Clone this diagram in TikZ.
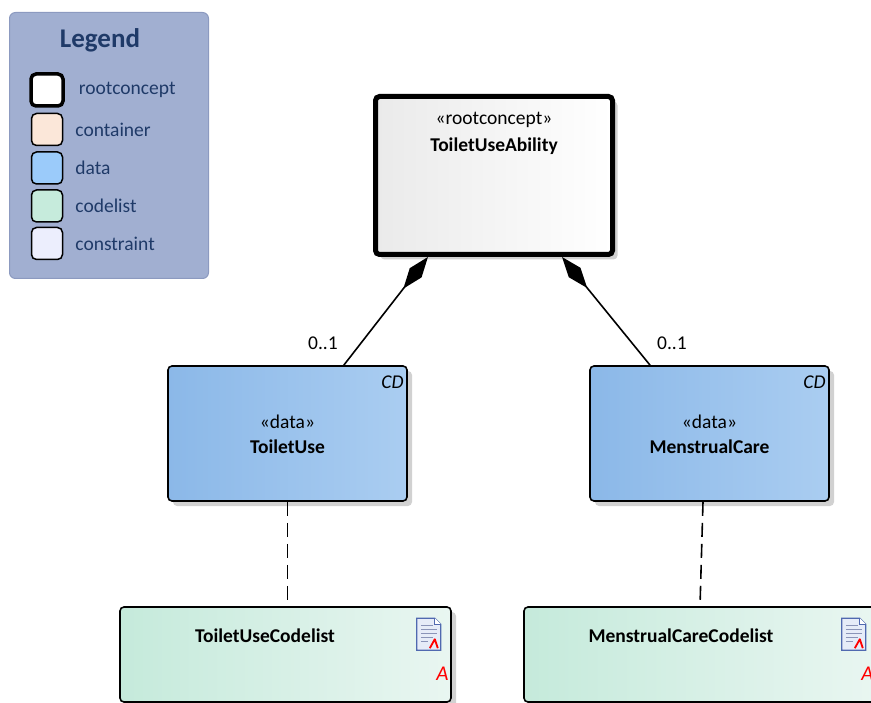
\documentclass[tikz,border=0pt]{standalone}
\usepackage{fontspec}
\setmainfont{Carlito}
\usepackage{xcolor}
\usepackage{tikz}
\usetikzlibrary{calc,shadows,arrows.meta,positioning}

\definecolor{legendfill}{HTML}{A1AFD1}
\definecolor{legendline}{HTML}{8C9AC0}
\definecolor{legendtext}{HTML}{1F3A68}
\definecolor{containercol}{HTML}{FBE7D9}
\definecolor{datacol}{HTML}{9BCBFA}
\definecolor{codelistcol}{HTML}{C6EBDC}
\definecolor{constraintcol}{HTML}{ECEEFD}
\definecolor{rootleft}{HTML}{EAEAEA}
\definecolor{dataleft}{HTML}{8BB8E8}
\definecolor{dataright}{HTML}{AACDF1}
\definecolor{codeleft}{HTML}{C5EADB}
\definecolor{coderight}{HTML}{E9F6F1}
\definecolor{iconblue}{HTML}{5069B0}
\definecolor{iconfill}{HTML}{E6ECF8}
\definecolor{iconlines}{HTML}{8A94B8}

\newcommand{\dgmfont}{\fontsize{19.5}{23}\selectfont}

\begin{document}
\begin{tikzpicture}[x=1pt,y=-1pt,
  elem/.style={rectangle, rounded corners=4pt, draw=black, line width=1.6pt, inner sep=0pt,
    drop shadow={shadow xshift=5pt, shadow yshift=-5pt, fill=black, opacity=0.18}},
  rootbox/.style={elem, line width=5pt, left color=rootleft, right color=white},
  databox/.style={elem, left color=dataleft, right color=dataright},
  codebox/.style={elem, left color=codeleft, right color=coderight},
  stereo/.style={font=\dgmfont, inner sep=0pt},
  elemname/.style={font=\dgmfont\bfseries, inner sep=0pt},
  mult/.style={font=\dgmfont, inner sep=0pt},
  composition/.style={line width=1.6pt, line join=miter, arrows={Diamond[length=40pt,width=15pt]-}},
  dependency/.style={line width=1.6pt, dash pattern=on 14pt off 7pt},
  swatch/.style={rectangle, rounded corners=5pt, draw=black, line width=1.5pt,
    minimum width=31, minimum height=32, inner sep=0pt},
  legendlabel/.style={font=\dgmfont, text=legendtext, anchor=west, inner sep=0pt}
]
  \useasboundingbox (0,0) rectangle (871,703);
  \clip (0,0) rectangle (871,703);

  % Legend
  \node[rectangle, rounded corners=6pt, draw=legendline, line width=1pt, fill=legendfill,
    minimum width=199, minimum height=266] (legend) at (109,145.5) {};
  \node[font=\fontsize{27}{31}\selectfont\bfseries, text=legendtext, inner sep=0pt] (legendtitle) at (100,40) {Legend};
  \node[swatch, line width=3.5pt, fill=white, minimum width=32, minimum height=32] (swroot) at (47,90) {};
  \node[swatch, fill=containercol] (swcontainer) at (47,129.5) {};
  \node[swatch, fill=datacol] (swdata) at (47,168) {};
  \node[swatch, fill=codelistcol] (swcodelist) at (47,206) {};
  \node[swatch, fill=constraintcol] (swconstraint) at (47,243.5) {};
  \node[legendlabel, right=14pt of swroot.east] {rootconcept};
  \node[legendlabel, right=12pt of swcontainer.east] {container};
  \node[legendlabel, right=12pt of swdata.east] {data};
  \node[legendlabel, right=12pt of swcodelist.east] {codelist};
  \node[legendlabel, right=12pt of swconstraint.east] {constraint};

  % Root concept
  \node[rootbox, minimum width=237, minimum height=158] (root) at (494,175.5) {};
  \node[stereo] (rootst) at (494,120) {«rootconcept»};
  \node[elemname] (rootname) at (494,146) {ToiletUseAbility};

  % Data elements
  \node[databox, minimum width=239, minimum height=135] (toilet) at (287.5,433.5) {};
  \node[stereo] (toiletst) at (287.5,422) {«data»};
  \node[elemname] (toiletname) at (287.5,447) {ToiletUse};
  \node[font=\dgmfont\itshape, anchor=east, inner sep=0pt] (toiletcd) at ($(toilet.north east)+(-4,17)$) {CD};

  \node[databox, minimum width=239, minimum height=135] (menstrual) at (709.5,433.5) {};
  \node[stereo] (menstrualst) at (709.5,422) {«data»};
  \node[elemname] (menstrualname) at (709.5,447) {MenstrualCare};
  \node[font=\dgmfont\itshape, anchor=east, inner sep=0pt] (menstrualcd) at ($(menstrual.north east)+(-4,17)$) {CD};

  % Codelists
  \node[codebox, minimum width=331, minimum height=95] (toiletcl) at (285.5,654.5) {};
  \node[elemname] (toiletclname) at (265,636) {ToiletUseCodelist};
  \node[codebox, minimum width=352, minimum height=95] (menstrualcl) at (700,654.5) {};
  \node[elemname] (menstrualclname) at (681,636) {MenstrualCareCodelist};

  % Icons on codelists
  \foreach \cl in {toiletcl,menstrualcl}{
    \begin{scope}[shift={($(\cl.north east)+(-23,28)$)}]
      \draw[iconblue, line width=1.2pt, fill=iconfill] (-12,-16) -- (6,-16) -- (12,-10) -- (12,16) -- (-12,16) -- cycle;
      \draw[iconblue, line width=1pt, fill=white] (6,-16) -- (6,-10) -- (12,-10);
      \draw[iconlines, line width=1.3pt] (-8,-9) -- (4,-9);
      \draw[iconlines, line width=1.3pt] (-8,-5) -- (8,-5);
      \draw[iconlines, line width=1.3pt] (-8,-1) -- (8,-1);
      \draw[iconlines, line width=1.3pt] (-8,3) -- (4,3);
      \draw[iconlines, line width=1.3pt] (-8,7) -- (-1,7);
      \draw[red, line width=1.8pt, line join=round] (1,14) -- (6,5) -- (9,14);
    \end{scope}
    \node[font=\fontsize{21}{25}\selectfont\itshape, text=red, anchor=east, inner sep=0pt] at ($(\cl.north east)+(-3,68)$) {A};
  }

  % Compositions
  \draw[composition] ($(root.south west)!0.227!(root.south east)$) -- ($(toilet.north west)!0.734!(toilet.north east)$);
  \draw[composition] ($(root.south west)!0.781!(root.south east)$) -- ($(menstrual.north west)!0.253!(menstrual.north east)$);
  \node[mult] (multtoilet) at (323,343) {0..1};
  \node[mult] (multmenstrual) at (672,343) {0..1};

  % Dependencies
  \draw[dependency] (toilet.south) -- (toilet.south |- toiletcl.north);
  \draw[dependency] ($(menstrual.south west)!0.473!(menstrual.south east)$) -- (menstrualcl.north);
\end{tikzpicture}
\end{document}
